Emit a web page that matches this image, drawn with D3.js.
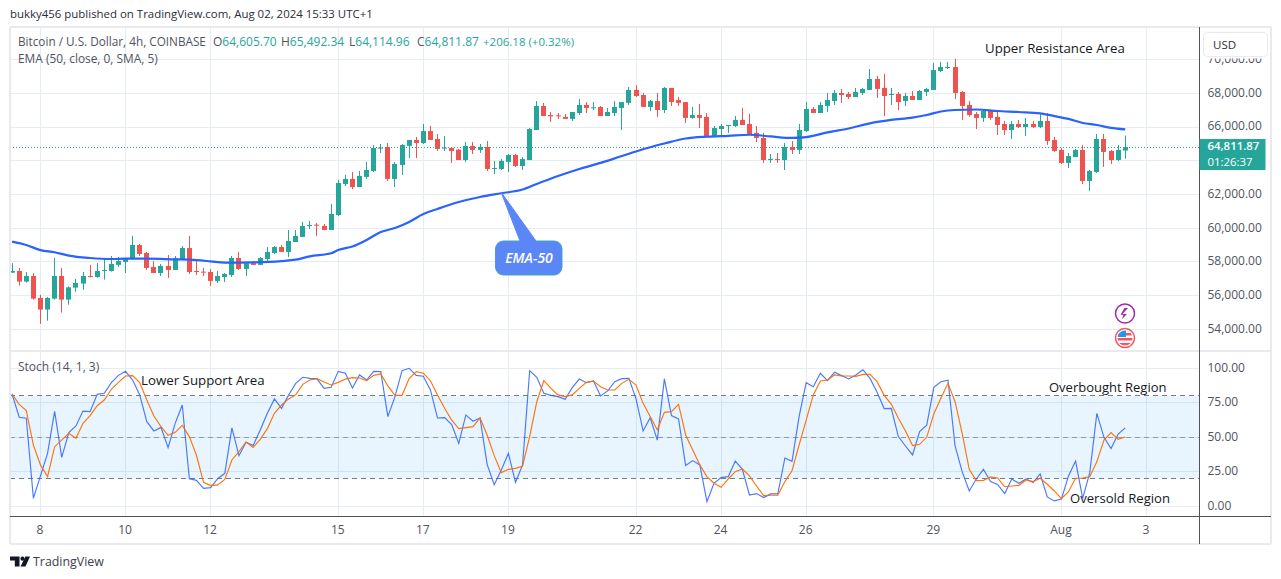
<!DOCTYPE html>
<html>
<head>
<meta charset="utf-8">
<script src="https://cdnjs.cloudflare.com/ajax/libs/d3/7.8.5/d3.min.js"></script>
<style>
  html, body { margin: 0; padding: 0; background: #fff; }
  svg { display: block; }
  text { font-family: "Open Sans", "Noto Sans", sans-serif; }
</style>
</head>
<body>
<div id="chart"></div>
<script>
/* DATA */
const opens = [
  57360,57460,56830,57160,55860,55170,55820,57160,55760,56470,
  56710,57160,57100,57480,57460,57820,57990,58170,59000,58530,
  57700,57340,57760,57520,58150,58820,57460,57420,57400,56870,
  57100,57220,58230,57580,57920,57820,58170,58530,58880,58590,
  59180,59480,60150,60210,60130,59890,60780,62620,62920,62440,
  63040,63390,64740,64820,62920,63750,64880,65230,65050,65760,
  65290,64720,64760,64660,64040,64880,64640,64820,63530,63510,
  63930,64340,63690,64040,65820,67250,66710,66690,66600,66480,
  66830,67310,67130,67190,66650,66830,67130,67430,68200,67900,
  67190,67540,67010,68320,67600,67480,66540,66710,66600,65470,
  65880,66080,66060,66420,66180,65650,65350,64060,64100,64040,
  64820,64640,65760,67070,66830,67250,67540,68020,67960,67780,
  68020,68200,68850,68320,67920,67960,67540,67840,67600,68080,
  68200,69320,69520,69560,68080,67310,66770,66540,66950,66600,
  66180,65820,66180,66000,66180,66000,66360,65230,64640,63870,
  64220,64640,62800,63330,65290,64580,64040,64605.70
];
const highs = [
  57930,57640,57400,57340,56040,55920,58230,57640,56550,56990,
  57400,57820,57930,58230,58350,58290,58230,59540,59060,58590,
  58050,57880,58410,58350,58940,59540,58050,57640,57580,57460,
  57340,58350,58590,57990,58050,58290,58880,58940,59000,59890,
  59890,60370,60430,60310,60250,61430,62860,63160,63330,63390,
  63930,64930,64990,65050,63930,64990,65230,65410,66180,66060,
  65590,65470,64760,64700,65110,65110,64990,65170,63990,64100,
  64400,64400,64220,65940,67540,67430,66890,66830,66770,66890,
  67660,67480,67480,67250,67130,67540,67480,68370,68490,68020,
  67600,68020,68370,68320,67780,67480,67190,67370,66830,66060,
  66180,66120,66650,67130,66770,66060,65650,64400,64460,65050,
  65170,66180,67480,67190,67480,68020,68200,68260,68080,68320,
  68320,69440,69030,69150,68320,68080,68020,68140,68200,68320,
  69800,69860,69860,70040,68140,67540,66890,67010,67010,66890,
  66360,66360,66420,66540,66360,66770,66830,65410,64760,64460,
  64700,64940,63450,65590,65590,64640,64940,65492.34
];
const lows = [
  57360,56590,56770,55760,54320,54510,55760,54990,55460,56230,
  56350,57080,57060,56950,57420,57700,57340,58170,58350,57520,
  57340,57160,57050,57520,58110,57280,57220,57160,56570,56750,
  56810,57100,57520,57160,57820,57820,57990,58470,58590,58290,
  59180,59480,59950,59540,59890,59890,60720,62500,62320,62440,
  62920,63330,64460,62800,62440,63160,64160,64160,64990,65230,
  64580,64580,63870,64040,63930,64400,64460,63390,63210,63450,
  63330,63630,63450,64040,65820,66650,66300,66480,66480,66360,
  66710,66830,67010,66650,66650,66650,65820,67310,67780,67190,
  66950,66600,66830,67250,67250,66240,66480,65940,65470,65410,
  65470,65650,66000,66120,65530,65110,63870,63870,63870,63450,
  64400,64400,65710,66830,66830,66890,67310,67430,67660,67780,
  67900,68200,67720,66650,67310,67010,67250,67600,67600,67840,
  68200,69260,69440,67660,66420,66600,65880,66300,66420,65530,
  65530,65290,65940,65470,65940,65940,64940,64520,63810,63570,
  64220,62620,62210,63270,63630,63810,63990,64114.96
];
const closes = [
  57460,56830,57160,55820,55170,55860,57160,55760,56490,56750,
  57160,57100,57460,57520,57880,58050,58230,59000,58470,57640,
  57340,57760,57520,58210,58820,57400,57400,57380,56870,57160,
  57280,58230,57580,57920,57820,58230,58590,58880,58590,59240,
  59540,60130,60190,60150,59890,60840,62680,62920,62440,63100,
  63450,64760,64780,62920,63810,64930,65230,65050,65760,65230,
  64700,64780,64580,64040,64880,64640,64820,63510,63570,63990,
  64340,63690,64100,65880,67250,66650,66630,66630,66480,66890,
  67310,67130,67170,66650,66890,67190,67480,68200,67840,67190,
  67540,67010,68320,67480,67430,66540,66710,66540,65470,65940,
  66060,66120,66420,66120,65590,65350,64040,64100,64040,64820,
  64640,65820,67070,66830,67310,67600,68020,67900,67780,68080,
  68260,68850,68260,67840,67960,67480,67840,67600,68140,68260,
  69380,69560,69560,68020,67250,66710,66540,66950,66540,66120,
  65820,66180,66000,66180,66000,66360,65170,64580,63870,64280,
  64640,62800,63390,65290,64520,64040,64640,64811.87
];

// ema is read at these bars only, the line joins them
const emaBars = [0,2,4,6,8,11,14,16,19,23,25,28,30,34,38,40,42,45,46,48,50,52,54,56,58,60,63,66,69,72,74,77,80,83,86,88,90,92,95,98,101,104,107,110,112,115,118,121,124,127,129,131,133,136,139,142,145,147,149,151,153,155,157];
const emaValues = [59200,59000,58700,58570,58370,58230,58170,58190,58190,58150,58130,58030,57950,57970,58050,58130,58330,58510,58700,58910,59300,59770,60010,60370,60840,61140,61550,61850,62070,62290,62620,63090,63510,63870,64280,64550,64800,65020,65320,65430,65480,65540,65440,65350,65400,65680,65910,66220,66420,66560,66710,66920,67010,67040,66950,66890,66810,66650,66480,66240,66120,65950,65860];

const stochK = [
  81.4,64.5,63.8,5.8,22,38.4,68.8,35.5,53.4,58.2,
  69,68.6,81.1,81.9,89.6,94.9,97.8,91.5,80.7,61.3,
  54.6,57.2,42.5,60.1,73.4,20,18.8,13,13.5,20,
  23.9,56.8,36.7,46.4,44,55.3,67.4,77.8,71,80.7,
  89.1,93.5,92.7,92.3,85.5,86.2,97.8,96.4,85.7,95.2,
  91.5,97.8,97.6,65,79.5,98.3,100,94.9,94.2,84.3,
  64,64.2,59.2,45.6,66.2,61.6,64,30.4,15.7,26.3,
  38.4,17.4,30,98.3,93.5,81.9,80.4,79.5,77.5,86,
  92.2,89.6,90.8,80,83.6,90.3,92.5,92.7,77.8,54.6,
  64.2,48,92.3,65.7,63.3,29.5,33.1,30,3.4,16.7,
  20.8,21.5,32.8,26.8,8.2,9.2,6.3,9,9,35,
  32.6,65,89.6,86.7,96.4,91,97.1,94.7,92.3,95.2,
  99,92.7,82.6,70.8,71,50.5,43.7,37.2,54.1,58.7,
  86.2,90.3,91.3,43.7,25.1,11.1,19.8,26.8,17.9,15.9,
  9.2,19.8,16.7,19.8,17.2,23.4,6.8,3.9,5.3,22,
  32.8,5.8,24.4,67.4,50,41.8,52.4,56.8
];
const stochD = [
  81.4,73.9,69.3,44.4,30,21.5,43.2,48,52.9,49.3,
  60.1,65.7,72.9,77,84.8,89.8,94.4,94.7,89.6,77,
  65.4,57.7,51.4,53.6,58.7,50.5,37,17.4,15,15.5,
  19.5,33.6,39.6,46.6,42.7,48.5,56.3,67.4,73.4,77.8,
  80.7,88.4,91.5,92.5,90.1,87.9,89.8,92.2,93.2,93,
  91,94.9,95.9,87.2,80.4,80.4,92.5,97.6,96.4,91,
  80.7,71,62.5,56.3,57,57.7,64,51.7,36.7,24.4,
  26.8,27.5,29.2,50.5,75.8,91,85.5,80.7,79.5,80.7,
  85.5,89.8,90.8,86.7,84.3,84.3,89.1,92,87.9,74.6,
  65,55.3,68.1,68.6,73.9,51.7,40.8,30,21.5,16.7,
  13.8,19.8,25.1,27,22,14.7,7.7,8,8,17.9,
  25.8,44.4,62.5,80.7,90.8,91.5,95.2,94.4,94.4,94.2,
  95.6,95.6,90.3,80.4,74.1,63.8,54.8,44,44.9,50,
  66.9,78.3,89.1,75.8,52.9,26.8,18.6,18.8,21.3,20.5,
  14.2,14.7,15.2,19.1,17.9,20.3,16,11.1,5.6,10.6,
  20.3,20.5,21.5,32.4,48,53.4,48.5,50.2
];

const dateBars = [4,16,28,46,58,70,88,100,112,130,148,160];
const dateLabels = ["8","10","12","15","17","19","22","24","26","29","Aug","3"];
const priceTicks = [54000,56000,58000,60000,62000,64000,66000,68000,70000];
const hiddenTick = 64000; // sits under the last price tag
const stochTicks = [0,25,50,75,100];
const stochLevels = [20,50,80];
const lastClose = closes[closes.length - 1];

/* CONSTANTS */
const width = 1281, height = 579;
const frame = { left: 10, right: 1199.5, outer: 1271, top: 27, split: 351, paneEnd: 516, bottom: 544 };
const upColor = "#26a69a", downColor = "#ef5350", gridColor = "#e5edf3", textColor = "#50535e", inkColor = "#2a2e39";

/* SCALES */
const xScale = d3.scaleLinear().domain([0, 160]).range([12.1, 1146.5]);
const yPrice = d3.scaleLinear().domain([54000, 68000]).range([329.3, 93.3]);
const yStoch = d3.scaleLinear().domain([0, 100]).range([506.3, 368.3]);
const snap = v => Math.floor(v) + 0.5;

const svg = d3.select("#chart").append("svg").attr("width", width).attr("height", height);
const defs = svg.append("defs");
defs.append("clipPath").attr("id", "pricePane").append("rect")
  .attr("x", frame.left).attr("y", frame.top).attr("width", frame.right - frame.left).attr("height", frame.split - frame.top);
defs.append("clipPath").attr("id", "flagClip").append("circle").attr("cx", 1125).attr("cy", 338).attr("r", 7.5);

/* GRID */
const grid = svg.append("g").attr("stroke", gridColor).attr("stroke-width", 1);
grid.selectAll(".vgrid").data(dateBars).join("line")
  .attr("x1", d => snap(xScale(d))).attr("x2", d => snap(xScale(d)))
  .attr("y1", frame.top).attr("y2", frame.paneEnd);
grid.selectAll(".hprice").data(priceTicks).join("line")
  .attr("x1", frame.left).attr("x2", frame.right)
  .attr("y1", d => snap(yPrice(d))).attr("y2", d => snap(yPrice(d)));
grid.selectAll(".hstoch").data(stochTicks).join("line")
  .attr("x1", frame.left).attr("x2", frame.right)
  .attr("y1", d => snap(yStoch(d))).attr("y2", d => snap(yStoch(d)));

/* CANDLES */
const bars = opens.map((o, i) => ({ i, o, h: highs[i], l: lows[i], c: closes[i] }));
const candles = svg.append("g").attr("clip-path", "url(#pricePane)");
candles.selectAll(".wick").data(bars).join("line")
  .attr("x1", d => snap(xScale(d.i))).attr("x2", d => snap(xScale(d.i)))
  .attr("y1", d => yPrice(d.h)).attr("y2", d => yPrice(d.l))
  .attr("stroke", d => d.c >= d.o ? upColor : downColor);
candles.selectAll(".body").data(bars).join("rect")
  .attr("x", d => snap(xScale(d.i)) - 2.5).attr("width", 5)
  .attr("y", d => yPrice(Math.max(d.o, d.c)))
  .attr("height", d => Math.max(1, Math.abs(yPrice(d.o) - yPrice(d.c))))
  .attr("fill", d => d.c >= d.o ? upColor : downColor);

// last price line
svg.append("line").attr("x1", frame.left).attr("x2", frame.right)
  .attr("y1", snap(yPrice(lastClose))).attr("y2", snap(yPrice(lastClose)))
  .attr("stroke", upColor).attr("stroke-dasharray", "1 2");

// ema
const emaLine = d3.line().curve(d3.curveMonotoneX).x(d => xScale(d[0])).y(d => yPrice(d[1]));
svg.append("path").datum(emaBars.map((b, k) => [b, emaValues[k]]))
  .attr("d", emaLine).attr("fill", "none").attr("stroke", "#2962ff").attr("stroke-width", 2.2);

/* STOCH PANE */
svg.append("rect").attr("x", frame.left).attr("width", frame.right - frame.left)
  .attr("y", yStoch(80)).attr("height", yStoch(20) - yStoch(80))
  .attr("fill", "#2196f3").attr("fill-opacity", 0.1);
svg.selectAll(".level").data(stochLevels).join("line")
  .attr("x1", frame.left).attr("x2", frame.right)
  .attr("y1", d => snap(yStoch(d))).attr("y2", d => snap(yStoch(d)))
  .attr("stroke", d => d === 50 ? "#9598a1" : "#787b86").attr("stroke-dasharray", "5 4");

const stochLine = d3.line().x((d, i) => xScale(i)).y(d => yStoch(d));
svg.append("path").datum(stochK).attr("d", stochLine).attr("fill", "none").attr("stroke", "#2962ff").attr("stroke-opacity", 0.85).attr("stroke-width", 1.15);
svg.append("path").datum(stochD).attr("d", stochLine).attr("fill", "none").attr("stroke", "#ff6d00").attr("stroke-opacity", 0.95).attr("stroke-width", 1.15);

/* FRAME */
const frameLines = [
  [frame.left, frame.top, frame.outer, frame.top],
  [frame.left, frame.split, frame.outer, frame.split],
  [frame.left, frame.bottom, frame.outer, frame.bottom],
  [frame.left, frame.top, frame.left, frame.bottom],
  [frame.outer, frame.top, frame.outer, frame.bottom]
];
svg.append("g").selectAll("line").data(frameLines).join("line")
  .attr("x1", d => d[0]).attr("y1", d => d[1]).attr("x2", d => d[2]).attr("y2", d => d[3])
  .attr("stroke", "#e8eaf0").attr("stroke-width", 2);
svg.append("line").attr("x1", frame.left).attr("x2", frame.outer).attr("y1", 516.5).attr("y2", 516.5).attr("stroke", textColor);
svg.append("line").attr("x1", frame.right).attr("x2", frame.right).attr("y1", frame.top).attr("y2", frame.bottom).attr("stroke", textColor);

/* AXES */
const priceAxis = d3.axisRight(yPrice).tickValues(priceTicks.filter(d => d !== hiddenTick)).tickSize(0).tickPadding(8).tickFormat(d3.format(",.2f"));
const stochAxis = d3.axisRight(yStoch).tickValues(stochTicks).tickSize(0).tickPadding(8).tickFormat(d3.format(".2f"));
const timeAxis = d3.axisBottom(xScale).tickValues(dateBars).tickSize(0).tickPadding(9).tickFormat((d, i) => dateLabels[i]);
[
  svg.append("g").attr("transform", `translate(${frame.right},-1)`).call(priceAxis),
  svg.append("g").attr("transform", `translate(${frame.right},-1)`).call(stochAxis),
  svg.append("g").attr("transform", `translate(-1,${frame.paneEnd})`).call(timeAxis)
].forEach(g => {
  g.select(".domain").remove();
  g.selectAll("text").attr("fill", textColor).style("font-size", "12px");
});

// currency button, it hides the top of the 70,000 label
svg.append("rect").attr("x", 1200).attr("y", 28).attr("width", 70).attr("height", 30.5).attr("fill", "#fff");
svg.append("rect").attr("x", 1203.5).attr("y", 32.5).attr("width", 64).attr("height", 24).attr("rx", 4)
  .attr("fill", "#fff").attr("stroke", "#e8eaf0");
svg.append("text").attr("x", 1213).attr("y", 48.5).attr("font-size", 11.5).attr("fill", inkColor).text("USD");

// last price tag
svg.append("rect").attr("x", frame.right).attr("y", 139).attr("width", 66).attr("height", 31).attr("fill", upColor);
svg.append("text").attr("x", 1207.5).attr("y", 150).attr("font-size", 11.4).attr("font-weight", 600).attr("fill", "#fff").text(d3.format(",.2f")(lastClose));
svg.append("text").attr("x", 1207.5).attr("y", 165.5).attr("font-size", 11.4).attr("fill", "#fff").text("01:26:37");

/* TEXTS */
const addText = (x, y, str, size, fill) => svg.append("text").attr("x", x).attr("y", y).attr("font-size", size).attr("fill", fill).text(str);
addText(10, 18, "bukky456 published on TradingView.com, Aug 02, 2024 15:33 UTC+1", 11.45, inkColor);
addText(18, 46, "Bitcoin / U.S. Dollar, 4h, COINBASE", 11.75, textColor);
addText(18, 63, "EMA (50, close, 0, SMA, 5)", 11.9, textColor);
addText(18, 371, "Stoch (14, 1, 3)", 12, textColor);

const ohlc = [[213, "O", "64,605.70"], [281, "H", "65,492.34"], [349, "L", "64,114.96"], [417, "C", "64,811.87"]];
ohlc.forEach(d => {
  const t = addText(d[0], 46, d[1], 12, textColor);
  t.append("tspan").attr("fill", upColor).text(d[2]);
});
addText(483, 46, "+206.18 (+0.32%)", 11.5, upColor);

addText(985, 53, "Upper Resistance Area", 13.25, "#131722");
addText(141, 385, "Lower Support Area", 13.3, "#131722");
addText(1049, 392, "Overbought Region", 13, "#131722");
addText(1070, 503, "Oversold Region", 13.1, "#131722");

/* EMA-50 CALLOUT */
svg.append("path")
  .attr("d", "M501 192 L520 241 L536 241 Z")
  .attr("fill", "#5b86f5").attr("stroke", "#5b86f5");
svg.append("rect").attr("x", 495.5).attr("y", 241).attr("width", 66.5).attr("height", 34).attr("rx", 8)
  .attr("fill", "#5b86f5").attr("stroke", "#3fa7c4");
svg.append("path").attr("d", "M520 241 L536 241").attr("stroke", "#5b86f5").attr("stroke-width", 2);
svg.append("text").attr("x", 529).attr("y", 263).attr("text-anchor", "middle")
  .attr("font-size", 14).attr("font-style", "italic").attr("font-weight", 600).attr("fill", "#fff").text("EMA-50");

/* BADGES */
svg.append("circle").attr("cx", 1125).attr("cy", 313.5).attr("r", 9.5).attr("fill", "#fff").attr("stroke", "#9c27b0").attr("stroke-width", 1.5);
svg.append("path").attr("d", "M1128 308 L1122.5 314 L1127 314 L1122 319 L1123.5 314.8 L1120.5 314.8 L1124.5 308 Z").attr("fill", "#9c27b0");
svg.append("circle").attr("cx", 1125).attr("cy", 338).attr("r", 9.5).attr("fill", "#fff").attr("stroke", "#f7525f").attr("stroke-width", 1.5);
const flag = svg.append("g").attr("clip-path", "url(#flagClip)");
flag.append("rect").attr("x", 1117).attr("y", 330).attr("width", 16).attr("height", 16).attr("fill", "#fff");
[333, 338, 343].forEach(y => flag.append("rect").attr("x", 1117).attr("y", y).attr("width", 16).attr("height", 2.5).attr("fill", "#f7525f"));
flag.append("rect").attr("x", 1117).attr("y", 330).attr("width", 9).attr("height", 7).attr("fill", "#2196f3");

/* LOGO */
svg.append("path").attr("d", "M10 556.5h9.5v10h-4.7v-6H10z").attr("fill", "#131722");
svg.append("circle").attr("cx", 22.5).attr("cy", 558.7).attr("r", 2.1).attr("fill", "#131722");
svg.append("path").attr("d", "M25.5 556.5h4.5l-4.5 10h-5z").attr("fill", "#131722");
addText(33, 566, "TradingView", 12.4, "#3a3e4a");
</script>
</body>
</html>
